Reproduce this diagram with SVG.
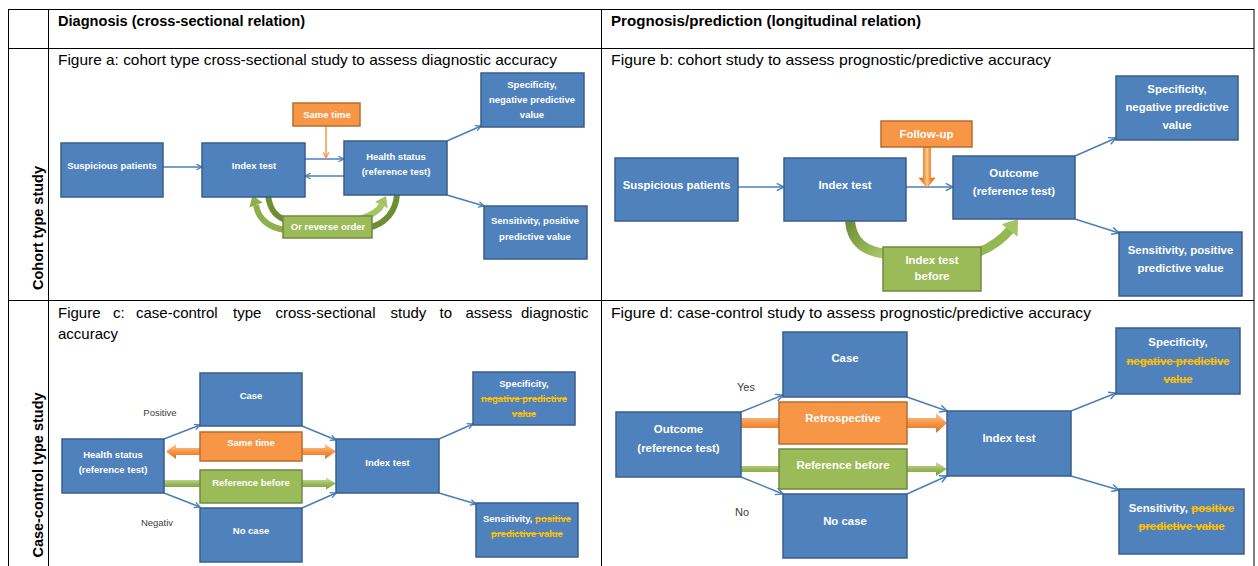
<svg xmlns="http://www.w3.org/2000/svg" width="1258" height="566" viewBox="0 0 1258 566">
<style>
.tb{fill:none;stroke:#000;stroke-width:1}
.b{fill:#4F81BD;stroke:#385D8A;stroke-width:1.5}
.o{fill:#F79646;stroke:#B66D31;stroke-width:1.5}
.g{fill:#9BBB59;stroke:#71893F;stroke-width:1.5}
.t{font-family:"Liberation Sans",Arial,sans-serif;font-weight:bold;fill:#fff;text-anchor:middle}
.s{font-size:9.5px}
.l{font-size:11.4px}
.x{fill:#FFC000;text-decoration:line-through}
.h{font-family:"Liberation Sans",Arial,sans-serif;font-weight:bold;font-size:14.5px;fill:#000}
.cap{font-family:"Liberation Sans",Arial,sans-serif;font-size:15px;fill:#000}
.lab{font-family:"Liberation Sans",Arial,sans-serif;fill:#404040}
.c{stroke:#4A7EBB;stroke-width:1.5;fill:none}
.cs{marker-end:url(#ms)}
.cl{marker-end:url(#ml)}
</style>
<defs>
<marker id="ms" viewBox="0 0 10 10" refX="9" refY="5" markerWidth="7" markerHeight="7" orient="auto" markerUnits="userSpaceOnUse"><path d="M1,1 L9,5 L1,9" fill="none" stroke="#4A7EBB" stroke-width="1.8"/></marker>
<marker id="ml" viewBox="0 0 10 10" refX="9" refY="5" markerWidth="9" markerHeight="9" orient="auto" markerUnits="userSpaceOnUse"><path d="M1,1 L9,5 L1,9" fill="none" stroke="#4A7EBB" stroke-width="1.6"/></marker>
<marker id="mo" viewBox="0 0 10 10" refX="9" refY="5" markerWidth="7" markerHeight="7" orient="auto" markerUnits="userSpaceOnUse"><path d="M1,1 L9,5 L1,9" fill="none" stroke="#F79646" stroke-width="1.8"/></marker>
<linearGradient id="og" x1="0" y1="0" x2="0" y2="1"><stop offset="0" stop-color="#FBC99A"/><stop offset="0.5" stop-color="#F79646"/><stop offset="1" stop-color="#D8701E"/></linearGradient>
<linearGradient id="gg" x1="0" y1="0" x2="0" y2="1"><stop offset="0" stop-color="#D3E2B0"/><stop offset="0.5" stop-color="#9BBB59"/><stop offset="1" stop-color="#769A3A"/></linearGradient>
<linearGradient id="fg" x1="0" y1="0" x2="1" y2="0"><stop offset="0" stop-color="#E46C0A"/><stop offset="0.3" stop-color="#F08A3A"/><stop offset="0.5" stop-color="#FAD08A"/><stop offset="0.7" stop-color="#F08A3A"/><stop offset="1" stop-color="#E46C0A"/></linearGradient>
<linearGradient id="cg" x1="0" y1="0" x2="1" y2="1"><stop offset="0" stop-color="#6E8E33"/><stop offset="1" stop-color="#A9C96A"/></linearGradient>
</defs>

<g id="table">
<rect class="tb" x="8.5" y="9.5" width="1245.5" height="570"/>
<line class="tb" x1="8.5" y1="48.5" x2="1254" y2="48.5"/>
<line class="tb" x1="8.5" y1="300.5" x2="1254" y2="300.5"/>
<line class="tb" x1="48.5" y1="9.5" x2="48.5" y2="566"/>
<line class="tb" x1="601.5" y1="9.5" x2="601.5" y2="566"/>
<text class="h" x="58" y="26" textLength="247" lengthAdjust="spacingAndGlyphs">Diagnosis (cross-sectional relation)</text>
<text class="h" x="611" y="26" textLength="310" lengthAdjust="spacingAndGlyphs">Prognosis/prediction (longitudinal relation)</text>
<text class="h" transform="translate(43,228) rotate(-90)" text-anchor="middle">Cohort type study</text>
<text class="h" transform="translate(43,475) rotate(-90)" text-anchor="middle">Case-control type study</text>
<text class="cap" x="58" y="65" textLength="499" lengthAdjust="spacingAndGlyphs">Figure a: cohort type cross-sectional study to assess diagnostic accuracy</text>
<text class="cap" x="611" y="65" textLength="440" lengthAdjust="spacingAndGlyphs">Figure b: cohort study to assess prognostic/predictive accuracy</text>
<text class="cap" y="318"><tspan x="58">Figure</tspan><tspan x="113">c:</tspan><tspan x="136">case-control</tspan><tspan x="233">type</tspan><tspan x="275.5">cross-sectional</tspan><tspan x="390.5">study</tspan><tspan x="439.5">to</tspan><tspan x="465.5">assess</tspan><tspan x="521">diagnostic</tspan></text>
<text class="cap" x="58" y="339">accuracy</text>
<text class="cap" x="611" y="318" textLength="480" lengthAdjust="spacingAndGlyphs">Figure d: case-control study to assess prognostic/predictive accuracy</text>
</g>

<g id="connectors">
<!-- figure a -->
<path class="c cs" d="M163 167 H202"/>
<path class="c cs" d="M305 159 H344"/>
<path class="c cs" d="M344 176 H305"/>
<path d="M326 126 V158" stroke="#F79646" stroke-width="1.5" fill="none" marker-end="url(#mo)"/>
<path class="c cs" d="M447 141 L481 126"/>
<path class="c cs" d="M447 195 L484 206"/>
<path d="M268 195 C270 212 278 219 290 221" stroke="#6E8E33" stroke-width="6" fill="none"/>
<path d="M286 230 C268 228 258 218 256 205" stroke="#8DB04C" stroke-width="6" fill="none"/>
<polygon points="252.5,195.6 262.6,202.5 249.4,207.5" fill="#8DB04C"/>
<path d="M397 194 C396 212 385 224 368 228" stroke="#6E8E33" stroke-width="6" fill="none"/>
<path d="M360 219 C372 215 379 211 381.5 205" stroke="#A5C564" stroke-width="6" fill="none"/>
<polygon points="386,196 387.8,208.2 375.2,201.8" fill="#A5C564"/>
<!-- figure b -->
<path class="c cl" d="M738 187 H784"/>
<path class="c cl" d="M906 187 H953"/>
<path class="c cl" d="M1075 156 L1116 138"/>
<path class="c cl" d="M1075 219 L1119 233"/>
<polygon points="923.5,147 930.5,147 930.5,178 935,178 927,187.5 919,178 923.5,178" fill="url(#fg)" stroke="#E46C0A" stroke-width="0.6"/>
<path d="M850 221 C852 243 865 251 886 254" stroke="url(#cg)" stroke-width="10" fill="none"/>
<path d="M979 252 C994 246 1003 238 1010 230" stroke="#95B853" stroke-width="9" fill="none"/>
<polygon points="1018,219 1017.6,236.8 1001.8,224.2" fill="#A5C564"/>
<!-- figure c -->
<path class="c cs" d="M164 439 L200 425"/>
<path class="c cs" d="M302 426 L336 440"/>
<path class="c cs" d="M164 493 L200 507"/>
<path class="c cs" d="M302 508 L336 493"/>
<path class="c cs" d="M439 439 L473 424"/>
<path class="c cs" d="M439 493 L476 504"/>
<polygon points="166,451.5 176,444 176,448 325,448 325,444 336,451.5 325,459 325,455 176,455 176,459" fill="url(#og)"/>
<polygon points="164,480 326,480 326,477.5 336,483.5 326,489.5 326,487 164,487" fill="url(#gg)"/>
<!-- figure d -->
<path class="c cl" d="M741 412 L783 395"/>
<path class="c cl" d="M907 397 L947 411"/>
<path class="c cl" d="M741 477 L783 494"/>
<path class="c cl" d="M907 494 L947 476"/>
<path class="c cl" d="M1071 411 L1116 393"/>
<path class="c cl" d="M1071 476 L1119 490"/>
<polygon points="741,418 936,418 936,413 947,423 936,433 936,428 741,428" fill="url(#og)"/>
<polygon points="741,466 936,466 936,462 947,469 936,476 936,472 741,472" fill="url(#gg)"/>
</g>

<!-- figure a nodes -->
<g id="a-suspicious"><rect class="b" x="61" y="143" width="102" height="54"/><text class="t s" x="112" y="169">Suspicious patients</text></g>
<g id="a-index"><rect class="b" x="202" y="143" width="103" height="54"/><text class="t s" x="254" y="169">Index test</text></g>
<g id="a-sametime"><rect class="o" x="293" y="103" width="67" height="23"/><text class="t s" x="327" y="117.5">Same time</text></g>
<g id="a-health"><rect class="b" x="344" y="141" width="103" height="54"/><text class="t s" x="396" y="159.5">Health status</text><text class="t s" x="396" y="174.5">(reference test)</text></g>
<g id="a-spec"><rect class="b" x="481" y="73" width="103" height="54"/><text class="t s" x="532" y="87.5">Specificity,</text><text class="t s" x="532" y="102.5">negative predictive</text><text class="t s" x="532" y="118">value</text></g>
<g id="a-sens"><rect class="b" x="484" y="206" width="103" height="53"/><text class="t s" x="535" y="223.5">Sensitivity, positive</text><text class="t s" x="535" y="239.5">predictive value</text></g>
<g id="a-reverse"><rect class="g" x="283" y="216" width="89" height="22"/><text class="t s" x="328" y="230">Or reverse order</text></g>

<!-- figure b nodes -->
<g id="b-suspicious"><rect class="b" x="615" y="158" width="123" height="63"/><text class="t l" x="676.5" y="189">Suspicious patients</text></g>
<g id="b-index"><rect class="b" x="784" y="158" width="122" height="63"/><text class="t l" x="845" y="189">Index test</text></g>
<g id="b-followup"><rect class="o" x="881" y="121" width="91" height="26"/><text class="t l" x="926.5" y="137.5">Follow-up</text></g>
<g id="b-outcome"><rect class="b" x="953" y="156" width="122" height="63"/><text class="t l" x="1014" y="177">Outcome</text><text class="t l" x="1014" y="195">(reference test)</text></g>
<g id="b-spec"><rect class="b" x="1116" y="76" width="122" height="64"/><text class="t l" x="1177" y="93">Specificity,</text><text class="t l" x="1177" y="111">negative predictive</text><text class="t l" x="1177" y="129">value</text></g>
<g id="b-sens"><rect class="b" x="1119" y="232" width="123" height="64"/><text class="t l" x="1180.5" y="254">Sensitivity, positive</text><text class="t l" x="1180.5" y="272">predictive value</text></g>
<g id="b-before"><rect class="g" x="883" y="247" width="98" height="44"/><text class="t l" x="932" y="264">Index test</text><text class="t l" x="932" y="280">before</text></g>

<!-- figure c nodes -->
<g id="c-health"><rect class="b" x="62" y="439" width="102" height="54"/><text class="t s" x="113" y="458">Health status</text><text class="t s" x="113" y="473">(reference test)</text></g>
<g id="c-case"><rect class="b" x="200" y="373" width="102" height="53"/><text class="t s" x="251" y="398.5">Case</text></g>
<g id="c-sametime"><rect class="o" x="200" y="432" width="102" height="29"/><text class="t s" x="251" y="445.5">Same time</text></g>
<g id="c-refbefore"><rect class="g" x="200" y="470" width="102" height="33"/><text class="t s" x="251" y="485.5">Reference before</text></g>
<g id="c-nocase"><rect class="b" x="200" y="508" width="102" height="54"/><text class="t s" x="251" y="533.5">No case</text></g>
<g id="c-index"><rect class="b" x="336" y="439" width="103" height="54"/><text class="t s" x="387.5" y="465.5">Index test</text></g>
<g id="c-spec"><rect class="b" x="473" y="372" width="102" height="53"/><text class="t s" x="524" y="386.5">Specificity,</text><text class="t s x" x="524" y="401.5">negative predictive</text><text class="t s x" x="524" y="416.5">value</text></g>
<g id="c-sens"><rect class="b" x="476" y="503" width="102" height="54"/><text class="t s" x="527" y="521.5">Sensitivity, <tspan class="x">positive</tspan></text><text class="t s x" x="527" y="536.5">predictive value</text></g>
<g id="c-labels"><text class="lab" font-size="9.5" x="160" y="416" text-anchor="middle">Positive</text><text class="lab" font-size="9.5" x="157" y="526" text-anchor="middle">Negativ</text></g>

<!-- figure d nodes -->
<g id="d-outcome"><rect class="b" x="616" y="412" width="125" height="65"/><text class="t l" x="678.5" y="433">Outcome</text><text class="t l" x="678.5" y="452">(reference test)</text></g>
<g id="d-case"><rect class="b" x="783" y="332" width="124" height="65"/><text class="t l" x="845" y="362">Case</text></g>
<g id="d-retro"><rect class="o" x="779" y="402" width="128" height="42"/><text class="t l" x="843" y="422">Retrospective</text></g>
<g id="d-refbefore"><rect class="g" x="779" y="449" width="128" height="40"/><text class="t l" x="843" y="469">Reference before</text></g>
<g id="d-nocase"><rect class="b" x="783" y="494" width="124" height="64"/><text class="t l" x="845" y="525">No case</text></g>
<g id="d-index"><rect class="b" x="947" y="411" width="124" height="65"/><text class="t l" x="1009" y="442">Index test</text></g>
<g id="d-spec"><rect class="b" x="1116" y="328" width="124" height="66"/><text class="t l" x="1178" y="346">Specificity,</text><text class="t l x" x="1178" y="365">negative predictive</text><text class="t l x" x="1178" y="383">value</text></g>
<g id="d-sens"><rect class="b" x="1119" y="489" width="125" height="65"/><text class="t l" x="1181.5" y="512">Sensitivity, <tspan class="x">positive</tspan></text><text class="t l x" x="1181.5" y="530">predictive value</text></g>
<g id="d-labels"><text class="lab" font-size="11" x="746" y="391" text-anchor="middle">Yes</text><text class="lab" font-size="11" x="742" y="516" text-anchor="middle">No</text></g>
</svg>
